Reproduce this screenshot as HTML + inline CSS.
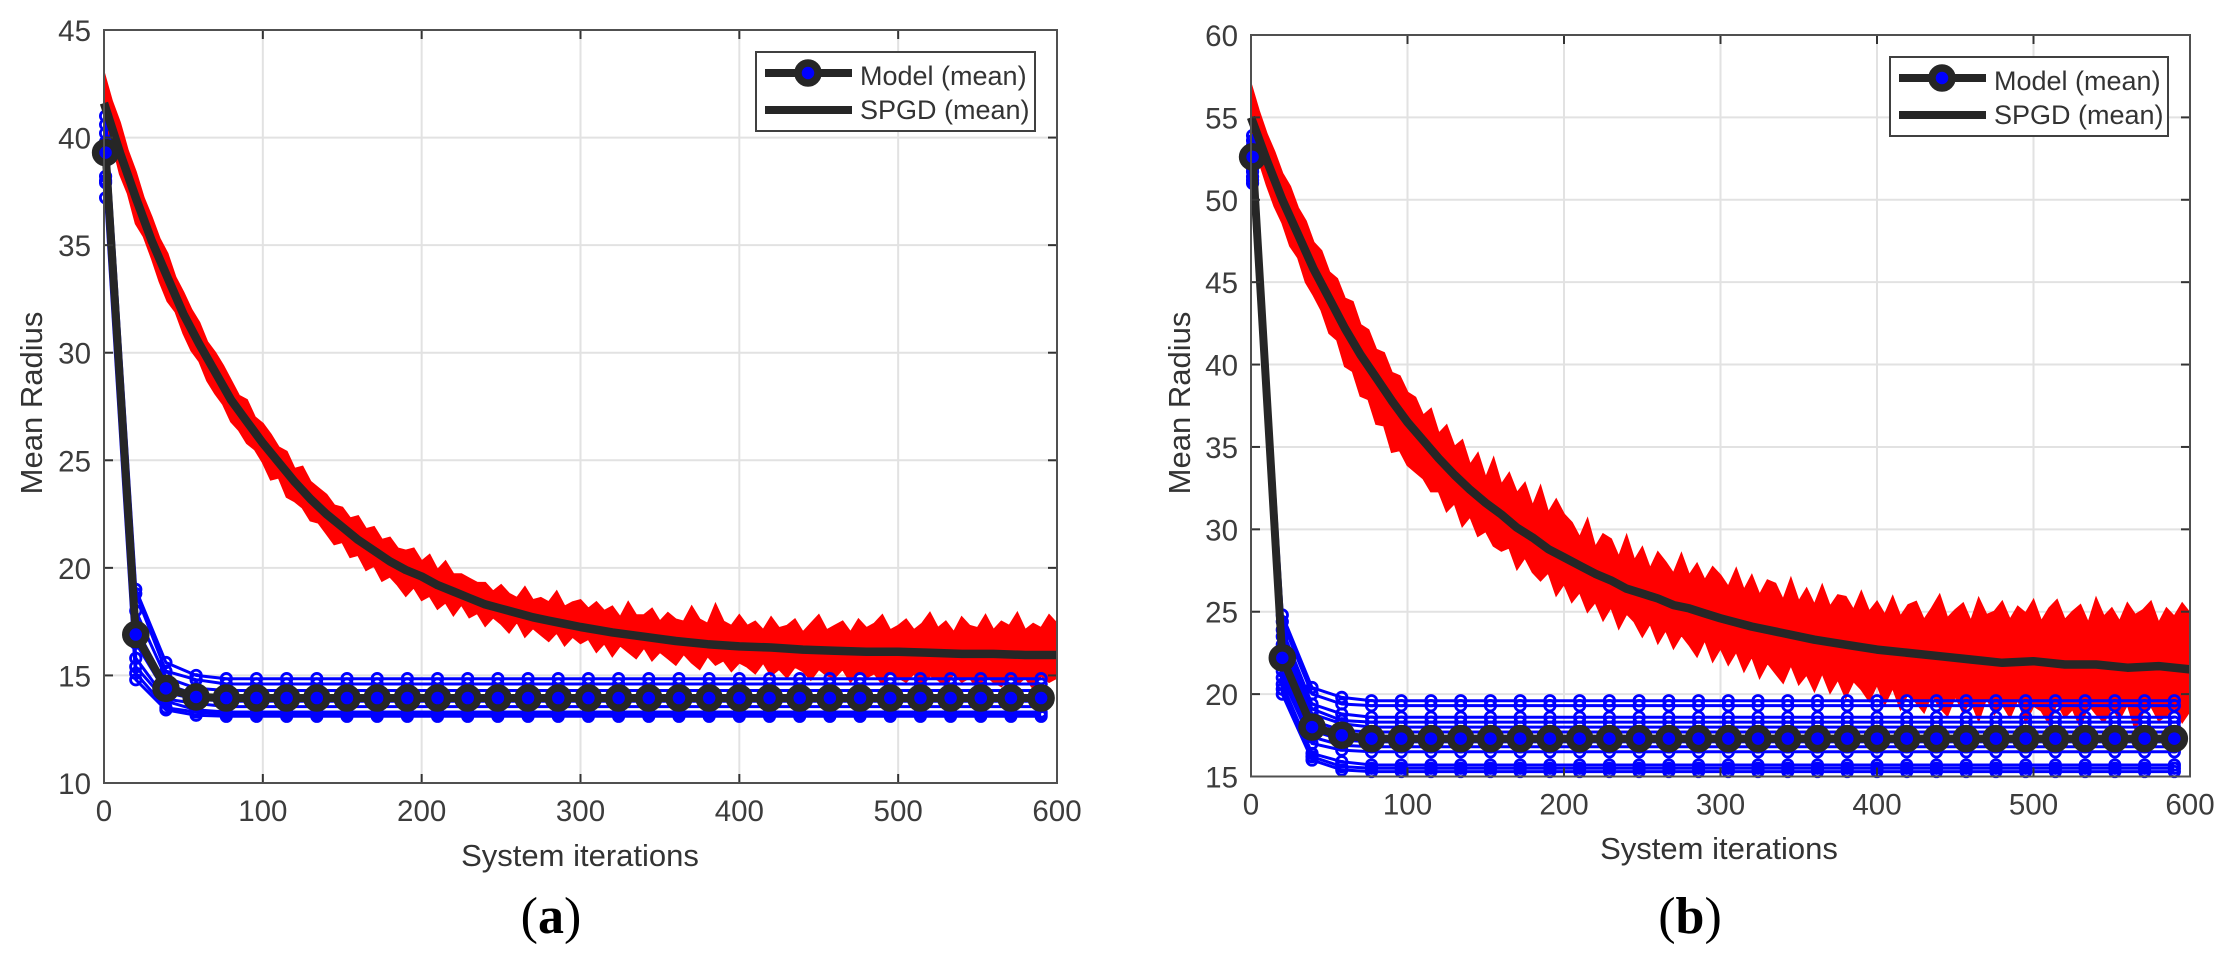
<!DOCTYPE html>
<html lang="en">
<head>
<meta charset="utf-8">
<title>Mean Radius vs System iterations</title>
<style>
html,body{margin:0;padding:0;background:#fff;}
svg{display:block;font-family:"Liberation Sans",sans-serif;}
</style>
</head>
<body>
<svg id="figure" width="2226" height="963" viewBox="0 0 2226 963" xmlns="http://www.w3.org/2000/svg"></svg>
<script>
const xTickLabels = [0,100,200,300,400,500,600];
const yTickLabelsA = [10,15,20,25,30,35,40,45];
const yTickLabelsB = [15,20,25,30,35,40,45,50,55,60];

const modelIterations = [1,20,39,58,77,96,115,134,153,172,191,210,229,248,267,286,305,324,343,362,381,400,419,438,457,476,495,514,533,552,571,590];

const modelRunsA = [
[41.0,19.0,15.6,15.0,14.85,14.85,14.85,14.85,14.85,14.85,14.85,14.85,14.85,14.85,14.85,14.85,14.85,14.85,14.85,14.85,14.85,14.85,14.85,14.85,14.85,14.85,14.85,14.85,14.85,14.85,14.85,14.85],
[40.6,18.8,15.2,14.8,14.6,14.6,14.6,14.6,14.6,14.6,14.6,14.6,14.6,14.6,14.6,14.6,14.6,14.6,14.6,14.6,14.6,14.6,14.6,14.6,14.6,14.6,14.6,14.6,14.6,14.6,14.6,14.6],
[40.2,18.0,14.9,14.4,14.3,14.3,14.3,14.3,14.3,14.3,14.3,14.3,14.3,14.3,14.3,14.3,14.3,14.3,14.3,14.3,14.3,14.3,14.3,14.3,14.3,14.3,14.3,14.3,14.3,14.3,14.3,14.3],
[39.8,17.2,14.6,14.1,14.05,14.05,14.05,14.05,14.05,14.05,14.05,14.05,14.05,14.05,14.05,14.05,14.05,14.05,14.05,14.05,14.05,14.05,14.05,14.05,14.05,14.05,14.05,14.05,14.05,14.05,14.05,14.05],
[39.0,16.5,14.2,13.9,13.8,13.8,13.8,13.8,13.8,13.8,13.8,13.8,13.8,13.8,13.8,13.8,13.8,13.8,13.8,13.8,13.8,13.8,13.8,13.8,13.8,13.8,13.8,13.8,13.8,13.8,13.8,13.8],
[38.2,15.8,13.9,13.7,13.55,13.55,13.55,13.55,13.55,13.55,13.55,13.55,13.55,13.55,13.55,13.55,13.55,13.55,13.55,13.55,13.55,13.55,13.55,13.55,13.55,13.55,13.55,13.55,13.55,13.55,13.55,13.55],
[38.0,15.4,13.8,13.4,13.3,13.3,13.3,13.3,13.3,13.3,13.3,13.3,13.3,13.3,13.3,13.3,13.3,13.3,13.3,13.3,13.3,13.3,13.3,13.3,13.3,13.3,13.3,13.3,13.3,13.3,13.3,13.3],
[37.9,15.1,13.5,13.3,13.2,13.2,13.2,13.2,13.2,13.2,13.2,13.2,13.2,13.2,13.2,13.2,13.2,13.2,13.2,13.2,13.2,13.2,13.2,13.2,13.2,13.2,13.2,13.2,13.2,13.2,13.2,13.2],
[37.2,14.8,13.4,13.15,13.1,13.1,13.1,13.1,13.1,13.1,13.1,13.1,13.1,13.1,13.1,13.1,13.1,13.1,13.1,13.1,13.1,13.1,13.1,13.1,13.1,13.1,13.1,13.1,13.1,13.1,13.1,13.1]
];
const modelMeanA = [39.3,16.9,14.4,14.0,13.95,13.95,13.95,13.95,13.95,13.95,13.95,13.95,13.95,13.95,13.95,13.95,13.95,13.95,13.95,13.95,13.95,13.95,13.95,13.95,13.95,13.95,13.95,13.95,13.95,13.95,13.95,13.95];

const modelRunsB = [
[53.9,24.8,20.4,19.8,19.6,19.6,19.6,19.6,19.6,19.6,19.6,19.6,19.6,19.6,19.6,19.6,19.6,19.6,19.6,19.6,19.6,19.6,19.6,19.6,19.6,19.6,19.6,19.6,19.6,19.6,19.6,19.6],
[53.6,24.4,20.0,19.4,19.3,19.3,19.3,19.3,19.3,19.3,19.3,19.3,19.3,19.3,19.3,19.3,19.3,19.3,19.3,19.3,19.3,19.3,19.3,19.3,19.3,19.3,19.3,19.3,19.3,19.3,19.3,19.3],
[53.3,23.9,19.4,18.8,18.6,18.6,18.6,18.6,18.6,18.6,18.6,18.6,18.6,18.6,18.6,18.6,18.6,18.6,18.6,18.6,18.6,18.6,18.6,18.6,18.6,18.6,18.6,18.6,18.6,18.6,18.6,18.6],
[53.1,23.5,19.1,18.4,18.3,18.3,18.3,18.3,18.3,18.3,18.3,18.3,18.3,18.3,18.3,18.3,18.3,18.3,18.3,18.3,18.3,18.3,18.3,18.3,18.3,18.3,18.3,18.3,18.3,18.3,18.3,18.3],
[52.8,23.0,18.8,18.2,18.0,18.0,18.0,18.0,18.0,18.0,18.0,18.0,18.0,18.0,18.0,18.0,18.0,18.0,18.0,18.0,18.0,18.0,18.0,18.0,18.0,18.0,18.0,18.0,18.0,18.0,18.0,18.0],
[52.6,22.6,18.4,17.8,17.7,17.7,17.7,17.7,17.7,17.7,17.7,17.7,17.7,17.7,17.7,17.7,17.7,17.7,17.7,17.7,17.7,17.7,17.7,17.7,17.7,17.7,17.7,17.7,17.7,17.7,17.7,17.7],
[52.4,22.2,18.2,17.5,17.4,17.4,17.4,17.4,17.4,17.4,17.4,17.4,17.4,17.4,17.4,17.4,17.4,17.4,17.4,17.4,17.4,17.4,17.4,17.4,17.4,17.4,17.4,17.4,17.4,17.4,17.4,17.4],
[52.1,21.8,17.8,17.2,17.1,17.1,17.1,17.1,17.1,17.1,17.1,17.1,17.1,17.1,17.1,17.1,17.1,17.1,17.1,17.1,17.1,17.1,17.1,17.1,17.1,17.1,17.1,17.1,17.1,17.1,17.1,17.1],
[51.9,21.4,17.4,16.9,16.8,16.8,16.8,16.8,16.8,16.8,16.8,16.8,16.8,16.8,16.8,16.8,16.8,16.8,16.8,16.8,16.8,16.8,16.8,16.8,16.8,16.8,16.8,16.8,16.8,16.8,16.8,16.8],
[51.7,21.0,17.0,16.6,16.5,16.5,16.5,16.5,16.5,16.5,16.5,16.5,16.5,16.5,16.5,16.5,16.5,16.5,16.5,16.5,16.5,16.5,16.5,16.5,16.5,16.5,16.5,16.5,16.5,16.5,16.5,16.5],
[51.4,20.6,16.4,15.9,15.7,15.7,15.7,15.7,15.7,15.7,15.7,15.7,15.7,15.7,15.7,15.7,15.7,15.7,15.7,15.7,15.7,15.7,15.7,15.7,15.7,15.7,15.7,15.7,15.7,15.7,15.7,15.7],
[51.2,20.3,16.2,15.6,15.5,15.5,15.5,15.5,15.5,15.5,15.5,15.5,15.5,15.5,15.5,15.5,15.5,15.5,15.5,15.5,15.5,15.5,15.5,15.5,15.5,15.5,15.5,15.5,15.5,15.5,15.5,15.5],
[51.0,20.0,16.0,15.4,15.3,15.3,15.3,15.3,15.3,15.3,15.3,15.3,15.3,15.3,15.3,15.3,15.3,15.3,15.3,15.3,15.3,15.3,15.3,15.3,15.3,15.3,15.3,15.3,15.3,15.3,15.3,15.3]
];
const modelMeanB = [52.6,22.2,18.0,17.5,17.3,17.3,17.3,17.3,17.3,17.3,17.3,17.3,17.3,17.3,17.3,17.3,17.3,17.3,17.3,17.3,17.3,17.3,17.3,17.3,17.3,17.3,17.3,17.3,17.3,17.3,17.3,17.3];

const spgdIterations = [0,10,20,30,40,50,60,70,80,90,100,110,120,130,140,150,160,170,180,190,200,210,220,230,240,250,260,270,280,290,300,320,340,360,380,400,420,440,460,480,500,520,540,560,580,600];
const spgdMeanA = [41.6,39.3,37.2,35.2,33.5,31.8,30.4,29.1,27.8,26.8,25.8,24.9,24.0,23.2,22.5,21.9,21.3,20.8,20.3,19.9,19.6,19.2,18.9,18.6,18.3,18.1,17.9,17.7,17.55,17.4,17.25,17.0,16.8,16.6,16.45,16.35,16.3,16.2,16.15,16.1,16.1,16.05,16.0,16.0,15.95,15.95];
const spgdMeanB = [55.0,52.4,50.0,47.9,45.8,44.0,42.2,40.6,39.2,37.8,36.5,35.4,34.3,33.3,32.4,31.6,30.9,30.1,29.5,28.8,28.3,27.8,27.3,26.9,26.4,26.1,25.8,25.4,25.2,24.9,24.6,24.1,23.7,23.3,23.0,22.7,22.5,22.3,22.1,21.9,22.0,21.8,21.8,21.6,21.7,21.5];

const bandIterations = [0,5,10,15,20,25,30,35,40,45,50,55,60,65,70,75,80,85,90,95,100,105,110,115,120,125,130,135,140,145,150,155,160,165,170,175,180,185,190,195,200,205,210,215,220,225,230,235,240,245,250,255,260,265,270,275,280,285,290,295,300,305,310,315,320,325,330,335,340,345,350,355,360,365,370,375,380,385,390,395,400,405,410,415,420,425,430,435,440,445,450,455,460,465,470,475,480,485,490,495,500,505,510,515,520,525,530,535,540,545,550,555,560,565,570,575,580,585,590,595,600];

const spgdUpperA = [43.0,41.7,40.7,39.4,38.4,37.2,36.3,35.3,34.6,33.5,32.8,32.0,31.4,30.5,30.0,29.4,28.7,28.0,27.8,27.0,26.7,
26.2,25.6,25.4,24.6,24.7,24.0,23.7,23.4,22.9,22.8,22.3,22.4,21.8,21.9,21.3,21.4,20.9,20.8,20.9,20.3,
20.6,19.9,20.3,19.7,19.7,19.5,19.3,19.3,18.9,19.2,18.8,18.6,19.1,18.5,18.6,18.4,18.9,18.2,18.4,18.5,
18.1,18.4,18.0,18.2,17.7,18.4,17.8,17.8,18.1,17.5,17.9,17.6,17.5,18.2,17.6,17.4,18.3,17.5,17.3,17.8,
17.3,17.5,17.1,17.7,17.2,17.3,17.6,17.0,17.4,17.8,17.1,17.3,17.5,17.0,17.6,17.2,17.4,17.8,17.1,17.3,
17.6,17.1,17.4,17.9,17.2,17.5,17.0,17.7,17.3,17.2,17.8,17.1,17.5,17.3,17.9,17.1,17.4,17.2,17.8,17.4];
const spgdLowerA = [40.5,39.8,38.3,37.4,36.0,35.4,34.4,33.3,32.4,31.9,30.9,30.1,29.6,28.7,28.1,27.6,26.8,26.4,25.8,25.5,24.9,
24.1,24.2,23.3,23.1,22.8,22.2,22.1,21.6,21.1,21.2,20.5,20.6,19.9,20.1,19.4,19.6,19.2,18.7,19.1,18.5,
18.7,18.1,18.4,17.8,18.3,17.7,17.9,17.3,17.7,17.4,17.0,17.5,16.8,17.2,16.9,16.6,17.0,16.4,16.8,16.5,
16.7,16.1,16.5,15.9,16.4,16.1,15.8,16.3,15.7,16.1,15.8,15.5,16.0,15.6,15.3,15.9,15.5,15.7,15.2,15.6,
15.4,15.1,15.6,15.0,15.3,14.9,15.4,15.2,14.8,15.3,15.0,14.9,15.3,14.7,15.2,14.9,15.1,14.6,15.2,14.9,
14.7,15.1,14.5,15.0,14.8,14.5,15.1,14.7,14.9,14.4,15.0,14.7,14.5,15.0,14.6,14.9,14.4,15.0,14.7,14.9];

const spgdUpperB = [57.0,55.4,54.0,52.9,51.6,50.8,49.5,48.7,47.4,46.9,45.6,45.2,44.0,43.8,42.4,42.1,40.9,40.7,39.5,39.3,38.3,
38.0,36.9,37.3,35.8,36.3,35.0,35.4,33.9,34.6,33.1,34.3,32.7,33.4,32.2,32.8,31.4,32.6,31.0,31.8,30.9,
30.4,29.5,30.6,28.9,29.7,29.4,28.3,29.6,28.1,28.9,27.6,28.6,28.0,27.3,28.5,27.2,27.9,26.9,27.7,27.2,
26.5,27.6,26.3,27.2,26.0,26.9,26.7,25.7,27.0,25.6,26.4,25.4,26.6,25.3,26.0,25.9,25.1,26.2,25.0,25.6,
24.8,25.9,24.7,25.4,25.6,24.5,25.2,26.0,24.6,25.1,25.5,24.4,25.8,24.8,25.0,25.6,24.5,25.3,24.9,25.7,
24.4,25.2,25.7,24.5,25.0,25.4,24.3,25.8,24.7,25.2,24.4,25.5,24.8,25.1,25.6,24.3,25.2,24.7,25.5,24.9];
const spgdLowerB = [53.4,52.4,50.9,49.6,48.6,47.2,46.5,45.0,44.2,43.3,41.9,41.5,39.9,39.6,38.1,37.9,36.4,36.3,34.7,34.8,33.9,
33.5,33.1,32.3,32.3,31.1,31.6,30.2,30.8,29.6,29.9,29.0,28.7,28.9,27.6,28.3,27.4,26.9,27.4,26.0,26.7,
25.6,26.2,25.0,25.6,24.5,25.3,24.0,24.9,24.4,23.5,24.3,23.1,23.9,22.8,23.6,23.0,22.3,23.3,22.0,22.8,
21.8,22.6,21.4,22.3,21.0,21.9,21.3,20.7,21.8,20.6,21.2,20.2,21.3,20.1,20.9,19.8,20.8,20.3,19.6,20.6,
19.4,20.4,19.1,20.1,19.5,18.9,20.0,19.2,18.7,19.9,18.9,19.6,18.4,19.8,18.8,19.4,18.6,19.7,18.3,19.3,
19.0,18.2,19.5,18.6,19.1,18.0,19.4,18.8,18.3,19.2,18.5,19.4,17.9,18.9,19.3,18.4,18.7,19.2,18.3,19.0];

const SVGNS = 'http://www.w3.org/2000/svg';
const root = document.getElementById('figure');

function node(parent, tag, attrs, text) {
  const el = document.createElementNS(SVGNS, tag);
  for (const k in attrs) el.setAttribute(k, attrs[k]);
  if (text !== undefined) el.textContent = text;
  parent.appendChild(el);
  return el;
}

function drawChart(cfg) {
  const xScale = v => cfg.left + (v - 0) / 600 * (cfg.right - cfg.left);
  const yScale = v => cfg.bottom - (v - cfg.yMin) / (cfg.yMax - cfg.yMin) * (cfg.bottom - cfg.top);
  const pts = (xs, ys) => ys.map((v, i) => xScale(xs[i]).toFixed(1) + ',' + yScale(v).toFixed(1)).join(' ');

  const g = node(root, 'g', {});
  
  

  const bg = node(g, 'rect', {x: cfg.left, y: cfg.top, width: cfg.right - cfg.left, height: cfg.bottom - cfg.top, fill: '#fff'});
  
  

  xTickLabels.forEach(t => {
    const x = xScale(t);
    if (t > 0 && t < 600) {
      const gl = node(g, 'line', {x1: x, x2: x, y1: cfg.top, y2: cfg.bottom, stroke: '#e2e2e2', 'stroke-width': 2});
      
      
    }
  });
  cfg.yTicks.forEach(t => {
    const y = yScale(t);
    if (t > cfg.yMin && t < cfg.yMax) {
      const gl = node(g, 'line', {x1: cfg.left, x2: cfg.right, y1: y, y2: y, stroke: '#e2e2e2', 'stroke-width': 2});
      
      
    }
  });

  const band = node(g, 'polygon', {
    points: pts(bandIterations, cfg.upper) + ' ' + pts(bandIterations.slice().reverse(), cfg.lower.slice().reverse()),
    fill: '#ff0000', stroke: '#ff0000', 'stroke-width': 2, 'stroke-linejoin': 'miter', 'stroke-miterlimit': 6
  });
  
  

  cfg.runs.forEach(run => {
    const line = node(g, 'polyline', {points: pts(modelIterations, run), fill: 'none', stroke: '#0000ff', 'stroke-width': 3});
    
    
    run.forEach((v, i) => {
      const c = node(g, 'circle', {cx: xScale(modelIterations[i]), cy: yScale(v), r: 5.2, fill: 'none', stroke: '#0000ff', 'stroke-width': 2.8});
      
      
    });
  });

  const spgdLine = node(g, 'polyline', {points: pts(spgdIterations, cfg.spgdMean), fill: 'none', stroke: '#262626', 'stroke-width': 8.5, 'stroke-linejoin': 'round'});
  
  

  const modelLine = node(g, 'polyline', {points: pts(modelIterations, cfg.modelMean), fill: 'none', stroke: '#262626', 'stroke-width': 8, 'stroke-linejoin': 'round'});
  
  
  cfg.modelMean.forEach((v, i) => {
    const c = node(g, 'circle', {cx: xScale(modelIterations[i]), cy: yScale(v), r: 10, fill: '#0000ff', stroke: '#262626', 'stroke-width': 7.5});
    
    
  });

  xTickLabels.forEach(t => {
    const x = xScale(t);
    const tb = node(g, 'line', {x1: x, x2: x, y1: cfg.bottom, y2: cfg.bottom - 9, stroke: '#333', 'stroke-width': 2});
    
    
    const tt = node(g, 'line', {x1: x, x2: x, y1: cfg.top, y2: cfg.top + 9, stroke: '#333', 'stroke-width': 2});
    
    
    const lab = node(g, 'text', {x: x, y: cfg.bottom + 38, 'font-size': 29.5, fill: '#3c3c3c', 'text-anchor': 'middle'}, String(t));
    
    
  });
  cfg.yTicks.forEach(t => {
    const y = yScale(t);
    const tl = node(g, 'line', {x1: cfg.left, x2: cfg.left + 9, y1: y, y2: y, stroke: '#333', 'stroke-width': 2});
    
    
    const tr = node(g, 'line', {x1: cfg.right, x2: cfg.right - 9, y1: y, y2: y, stroke: '#333', 'stroke-width': 2});
    
    
    const lab = node(g, 'text', {x: cfg.left - 13, y: y + 11, 'font-size': 29.5, fill: '#3c3c3c', 'text-anchor': 'end'}, String(t));
    
    
  });

  const frame = node(g, 'rect', {x: cfg.left, y: cfg.top, width: cfg.right - cfg.left, height: cfg.bottom - cfg.top, fill: 'none', stroke: '#505050', 'stroke-width': 2});
  
  

  const xt = node(g, 'text', {x: cfg.xTitleX, y: cfg.xTitleY, 'font-size': 31, fill: '#333', 'text-anchor': 'middle'}, 'System iterations');
  
  
  const yt = node(g, 'text', {x: 0, y: 0, 'font-size': 31, fill: '#333', 'text-anchor': 'middle', transform: 'translate(' + cfg.yTitleX + ' ' + cfg.yTitleY + ') rotate(-90)'}, 'Mean Radius');
  
  

  const lg = node(g, 'g', {});
  
  
  const L = cfg.legend;
  const box = node(lg, 'rect', {x: L.x, y: L.y, width: L.w, height: L.h, fill: '#fff', stroke: '#404040', 'stroke-width': 2});
  
  
  const l1 = node(lg, 'line', {x1: L.x + 9, x2: L.x + 96, y1: L.y + 21, y2: L.y + 21, stroke: '#262626', 'stroke-width': 8});
  
  
  const m1 = node(lg, 'circle', {cx: L.x + 52, cy: L.y + 21, r: 10, fill: '#0000ff', stroke: '#262626', 'stroke-width': 7.5});
  
  
  const t1 = node(lg, 'text', {x: L.x + L.tx, y: L.y + 33, 'font-size': 27, fill: '#333'}, 'Model (mean)');
  
  
  const l2 = node(lg, 'line', {x1: L.x + 9, x2: L.x + 96, y1: L.y + 58, y2: L.y + 58, stroke: '#262626', 'stroke-width': 8});
  
  
  const t2 = node(lg, 'text', {x: L.x + L.tx, y: L.y + 67, 'font-size': 27, fill: '#333'}, 'SPGD (mean)');
  
  

  const cap = node(g, 'text', {x: cfg.capX, y: 933, 'font-size': 52, fill: '#000', 'text-anchor': 'middle', style: 'font-family:"Liberation Serif",serif'});
  
  
  node(cap, 'tspan', {}, '(');
  node(cap, 'tspan', {'font-weight': 'bold'}, cfg.caption);
  node(cap, 'tspan', {}, ')');
}

drawChart({
  name: 'chart-a', left: 104, right: 1057, top: 30, bottom: 783, yMin: 10, yMax: 45,
  yTicks: yTickLabelsA, upper: spgdUpperA, lower: spgdLowerA, runs: modelRunsA,
  modelMean: modelMeanA, spgdMean: spgdMeanA,
  xTitleX: 580, xTitleY: 866, yTitleX: 42, yTitleY: 403,
  legend: {x: 756, y: 52, w: 279, h: 79, tx: 104}, capX: 551, caption: 'a'
});
drawChart({
  name: 'chart-b', left: 1251, right: 2190, top: 35, bottom: 776.5, yMin: 15, yMax: 60,
  yTicks: yTickLabelsB, upper: spgdUpperB, lower: spgdLowerB, runs: modelRunsB,
  modelMean: modelMeanB, spgdMean: spgdMeanB,
  xTitleX: 1719, xTitleY: 859, yTitleX: 1190, yTitleY: 403,
  legend: {x: 1890, y: 57, w: 278, h: 79, tx: 104}, capX: 1690, caption: 'b'
});
</script>
</body>
</html>
